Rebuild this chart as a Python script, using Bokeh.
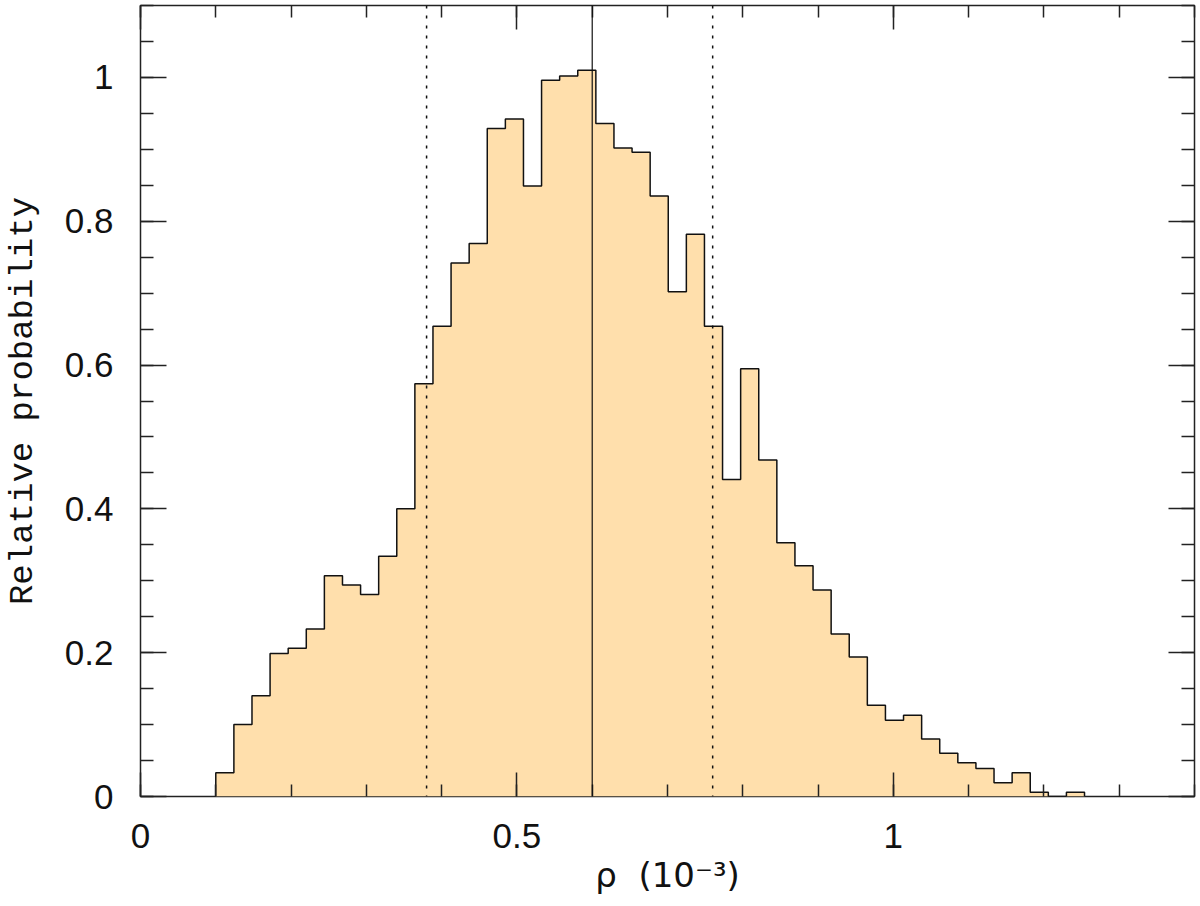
from bokeh.plotting import figure
from bokeh.models import (Range1d, LinearAxis, SingleIntervalTicker, CustomJSTickFormatter, Span)
from bokeh.embed import file_html
from bokeh.resources import INLINE

# ---- data ----
bin_start = 0.1
bin_width = 0.02404
heights = [0.033, 0.100, 0.140, 0.199, 0.206, 0.233, 0.307, 0.294, 0.281, 0.334,
           0.400, 0.574, 0.654, 0.742, 0.769, 0.929, 0.942, 0.849, 0.996, 1.002,
           1.010, 0.936, 0.902, 0.896, 0.835, 0.702, 0.782, 0.654, 0.441, 0.595,
           0.468, 0.353, 0.321, 0.287, 0.226, 0.194, 0.127, 0.106, 0.113, 0.080,
           0.060, 0.047, 0.039, 0.019, 0.033, 0.006, 0.0, 0.006]
median_rho = 0.60
interval_rho = [0.38, 0.76]
x_label = "ρ \u00a0(10⁻³)"
y_label = "Relative probability"

edges = [bin_start + i * bin_width for i in range(len(heights) + 1)]
ox, oy = [edges[0]], [0.0]
for i, h in enumerate(heights):
    ox += [edges[i], edges[i + 1]]
    oy += [h, h]
ox.append(edges[-1]); oy.append(0.0)

p = figure(width=1200, height=906, output_backend="svg", toolbar_location=None,
           x_range=Range1d(0, 1.4), y_range=Range1d(0, 1.1),
           min_border_left=140, min_border_right=6, min_border_top=5, min_border_bottom=110)
p.xaxis.visible = False
p.yaxis.visible = False
p.grid.visible = False
p.outline_line_color = "#222222"
p.outline_line_width = 1.5
p.background_fill_color = "white"
p.border_fill_color = "white"

p.patch(ox, oy, fill_color="#FFDFAC", line_color=None)
p.line(ox, oy, line_color="#111111", line_width=1.5)

p.add_layout(Span(location=median_rho, dimension="height", line_color="#111111", line_width=1.2))
for v in interval_rho:
    p.add_layout(Span(location=v, dimension="height", line_color="#111111",
                      line_width=1.5, line_dash="3 7"))

fmt = CustomJSTickFormatter(code="return Number(tick.toFixed(3)).toString();")
blank = CustomJSTickFormatter(code="return '';")

def make_axis(kind, ticker, labels):
    ax = LinearAxis(ticker=ticker, formatter=fmt if labels else blank)
    ax.axis_line_color = None
    ax.major_tick_out = 0
    ax.minor_tick_out = 0
    ax.major_tick_line_color = "#222222"
    ax.minor_tick_line_color = "#222222"
    ax.major_tick_line_width = 1.5
    ax.minor_tick_line_width = 1.5
    if kind == "x":
        ax.major_tick_in = 24
        ax.minor_tick_in = 12
    else:
        ax.major_tick_in = 26
        ax.minor_tick_in = 13
    if labels:
        ax.major_label_text_font = "Liberation Sans"
        ax.major_label_text_font_size = "35px"
        ax.major_label_text_color = "#111111"
    else:
        ax.major_label_standoff = 0
    return ax

xt = SingleIntervalTicker(interval=0.5, num_minor_ticks=5)
yt = SingleIntervalTicker(interval=0.2, num_minor_ticks=4)

bx = make_axis("x", xt, True)
bx.major_label_standoff = 27
bx.axis_label = x_label
bx.axis_label_text_font = "DejaVu Sans"
bx.axis_label_text_font_style = "normal"
bx.axis_label_text_font_size = "34px"
bx.axis_label_text_color = "#111111"
bx.axis_label_standoff = 4
p.add_layout(bx, "below")

ly = make_axis("y", yt, True)
ly.major_label_standoff = 27
ly.axis_label = y_label
ly.axis_label_text_font = "Liberation Mono"
ly.axis_label_text_font_style = "normal"
ly.axis_label_text_font_size = "34px"
ly.axis_label_text_color = "#111111"
ly.axis_label_standoff = 20
p.add_layout(ly, "left")

p.add_layout(make_axis("x", xt, False), "above")
p.add_layout(make_axis("y", yt, False), "right")

open("out.html", "w").write(file_html(p, INLINE))
